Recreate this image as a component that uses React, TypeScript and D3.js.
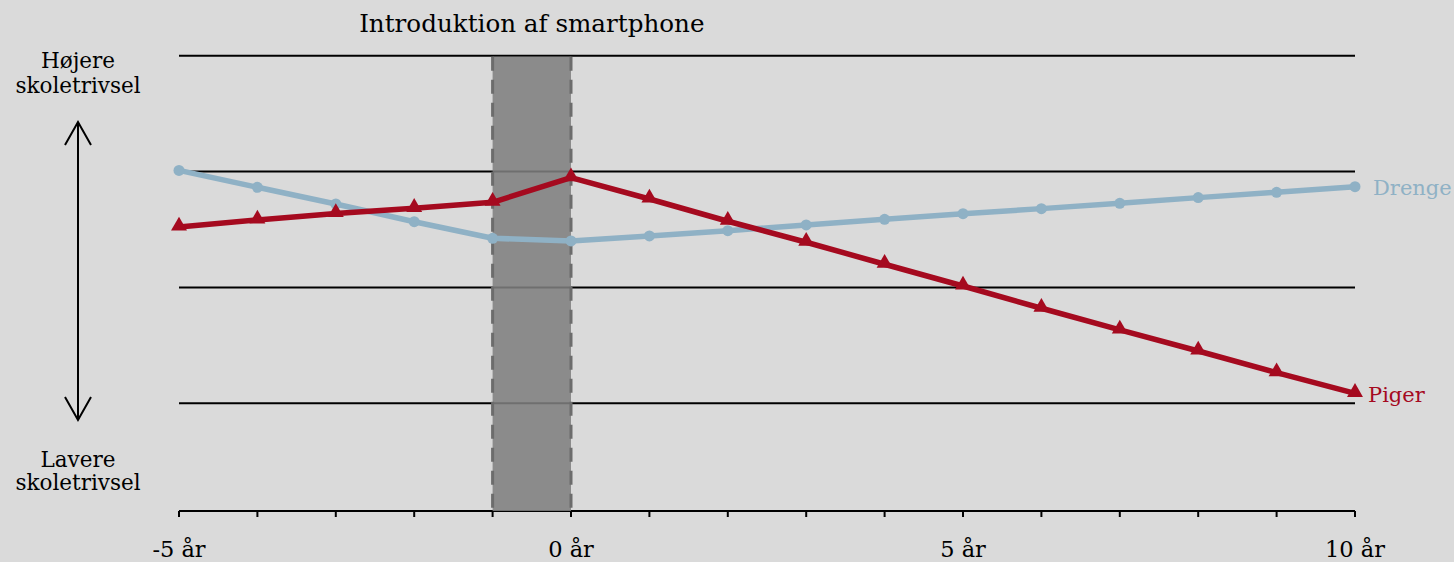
import React from 'react';
import * as d3 from 'd3';

const W = 1454;
const H = 562;

// years relative to the introduction of the smartphone
const years = [-5, -4, -3, -2, -1, 0, 1, 2, 3, 4, 5, 6, 7, 8, 9, 10];
const drenge = [3.01, 2.864, 2.72, 2.567, 2.424, 2.401, 2.444, 2.49, 2.539, 2.588, 2.636, 2.68, 2.726, 2.775, 2.821, 2.869];
const piger = [2.522, 2.582, 2.638, 2.683, 2.735, 2.947, 2.763, 2.571, 2.39, 2.2, 2.012, 1.82, 1.633, 1.451, 1.264, 1.086];
const gridValues = [1, 2, 3, 4];
const tickLabels = [-5, 0, 5, 10];
const band = [-1, 0];

const BLUE = '#8fb1c5';
const RED = '#a50a1f';
const FONT = '"DejaVu Serif", serif';

export default function App() {
  const x = d3.scaleLinear().domain([-5, 10]).range([179, 1355]);
  const y = d3.scaleLinear().domain([0.07, 4]).range([511, 55.7]);
  const yBase = y(0.07);

  const line = d3.line<number>()
    .x((_, i) => x(years[i]))
    .y(d => y(d));

  const tri = d3.symbol().type(d3.symbolTriangle).size(110)();

  return (
    <svg width={W} height={H} style={{ position: 'absolute', left: 0, top: 0, background: '#dadada' }}>
      <rect width={W} height={H} fill="#dadada" />

      {/* gridlines */}
      {gridValues.map(v => (
        <line key={v} x1={x(-5)} x2={x(10)} y1={y(v)} y2={y(v)} stroke="#000" strokeWidth={2} />
      ))}

      {/* x axis */}
      <line x1={x(-5)} x2={x(10)} y1={yBase} y2={yBase} stroke="#000" strokeWidth={2} />
      {years.map(t => (
        <line key={t} x1={x(t)} x2={x(t)} y1={yBase} y2={yBase + 6} stroke="#000" strokeWidth={2} />
      ))}
      {tickLabels.map(t => (
        <text key={t} x={x(t)} y={557} textAnchor="middle" fontFamily={FONT} fontSize={22.5} fill="#000">
          {`${t} år`}
        </text>
      ))}

      {/* smartphone band */}
      <rect x={x(band[0])} y={y(4) + 1} width={x(band[1]) - x(band[0])} height={yBase - y(4) - 1}
        fill="#808080" fillOpacity={0.87} />
      {band.map(b => (
        <line key={b} x1={x(b)} x2={x(b)} y1={y(4) + 1} y2={yBase} stroke="#6c6c6c" strokeWidth={3} strokeDasharray="14 9" />
      ))}
      <text x={(x(band[0]) + x(band[1])) / 2} y={32} textAnchor="middle" fontFamily={FONT} fontSize={24.6} fill="#000">
        Introduktion af smartphone
      </text>

      {/* series */}
      <path d={line(drenge) || ''} fill="none" stroke={BLUE} strokeWidth={5.5} strokeLinejoin="round" />
      {drenge.map((v, i) => (
        <circle key={i} cx={x(years[i])} cy={y(v)} r={5.5} fill={BLUE} />
      ))}
      <path d={line(piger) || ''} fill="none" stroke={RED} strokeWidth={5.5} strokeLinejoin="round" />
      {piger.map((v, i) => (
        <path key={i} d={tri || ''} transform={`translate(${x(years[i])},${y(v) - 1})`} fill={RED} />
      ))}

      <text x={1373} y={195} fontFamily={FONT} fontSize={21} fill={BLUE}>Drenge</text>
      <text x={1368} y={402} fontFamily={FONT} fontSize={21} fill={RED}>Piger</text>

      {/* left labels and double arrow */}
      <g fontFamily={FONT} fontSize={21.5} fill="#000" textAnchor="middle">
        <text x={78} y={68}>Højere</text>
        <text x={78} y={93}>skoletrivsel</text>
        <text x={78} y={467}>Lavere</text>
        <text x={78} y={490}>skoletrivsel</text>
      </g>
      <g stroke="#000" strokeWidth={2} fill="none">
        <line x1={78} x2={78} y1={122} y2={420} />
        <polyline points="65,145 78,122 91,145" />
        <polyline points="65,397 78,420 91,397" />
      </g>
    </svg>
  );
}
